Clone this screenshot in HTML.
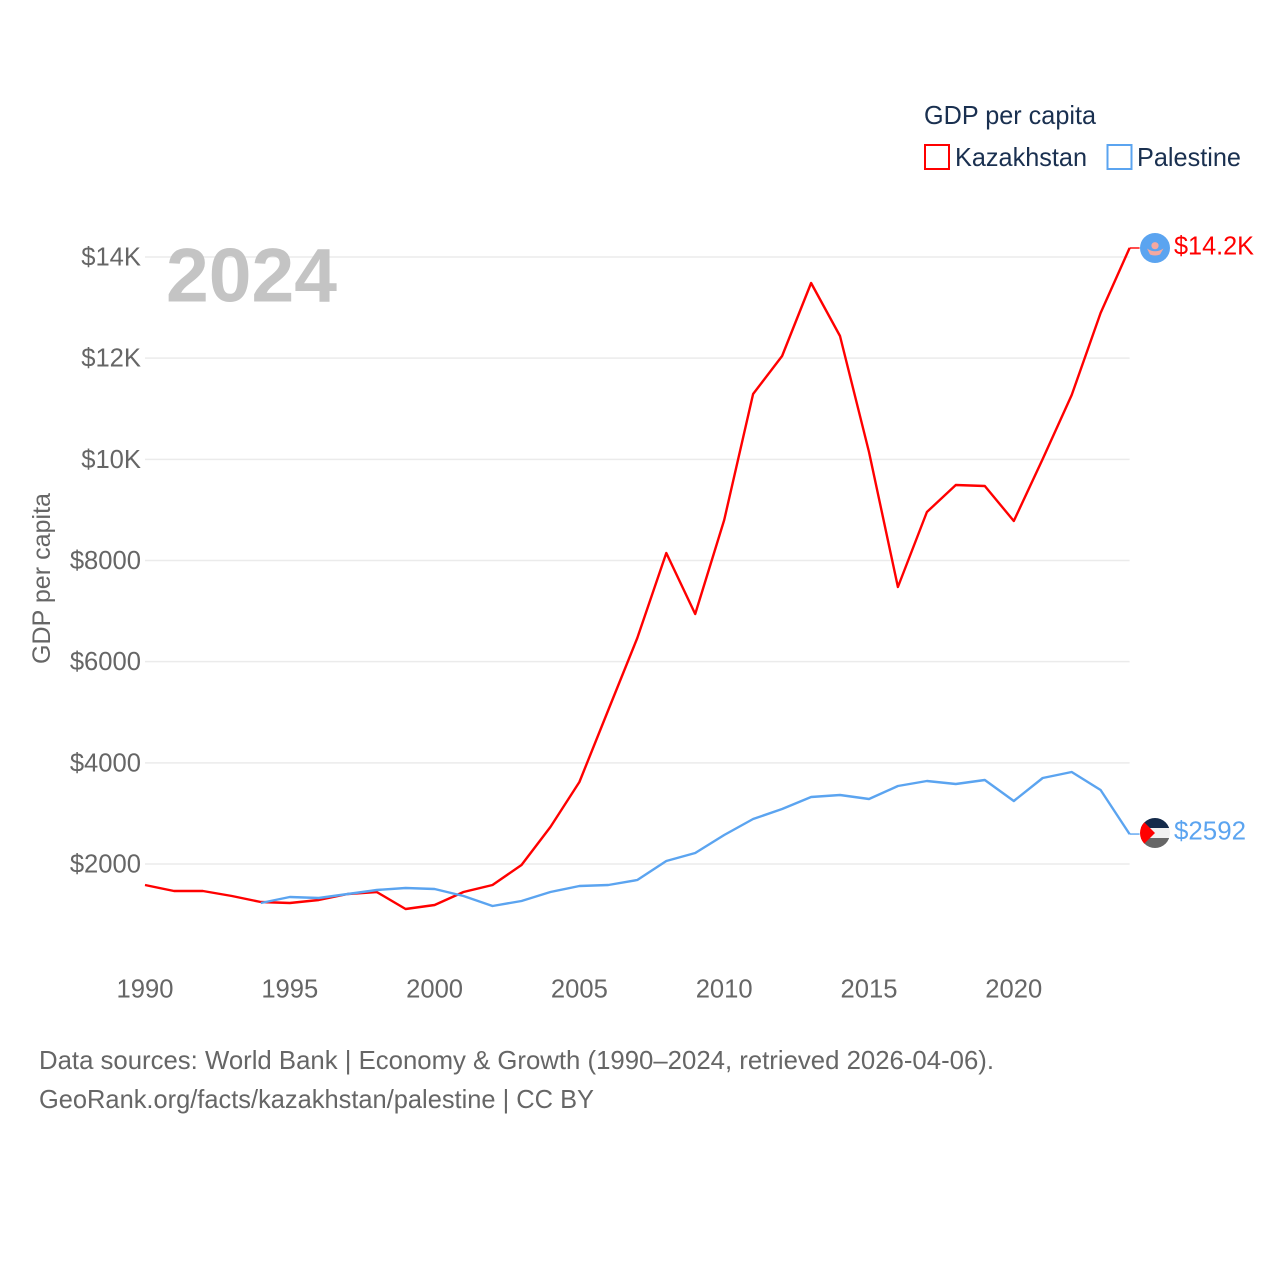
<!DOCTYPE html>
<html lang="en">
<head>
<meta charset="utf-8">
<title>GDP per capita: Kazakhstan and Palestine</title>
<style>
html,body{margin:0;padding:0;background:#fff;}
svg{display:block;font-family:"Liberation Sans",sans-serif;}
.tick{font-size:25.6px;fill:#666;}
.legend{font-size:26px;fill:#1a3050;}
</style>
</head>
<body>
<svg id="chart" width="1280" height="1280" viewBox="0 0 1280 1280" xmlns="http://www.w3.org/2000/svg">
  <defs>
    <clipPath id="flag-clip-kz"><circle cx="1155" cy="248" r="15"/></clipPath>
    <clipPath id="flag-clip-ps"><circle cx="1155" cy="833" r="15"/></clipPath>
  </defs>
  <g id="grid"></g>
  <g id="y-ticks"></g>
  <g id="x-ticks"></g>
  <text x="166" y="301.5" font-size="76" font-weight="700" fill="#c4c4c4" textLength="171" lengthAdjust="spacingAndGlyphs">2024</text>
  <text transform="translate(50,664) rotate(-90)" font-size="25" fill="#666" textLength="171" lengthAdjust="spacingAndGlyphs">GDP per capita</text>
  <g id="series"></g>

  <g clip-path="url(#flag-clip-kz)">
    <rect x="1140" y="233" width="30" height="30" fill="#5ba4f0"/>
    <circle cx="1155" cy="245.7" r="3.6" fill="#f5a8a0"/>
    <path d="M1147 248.5 Q1155 254 1163.5 248.5 L1160 254.5 Q1155 256.5 1150 254.5 Z" fill="#f5a8a0"/>
  </g>
  <g clip-path="url(#flag-clip-ps)">
    <rect x="1140" y="818" width="30" height="10" fill="#142a4a"/>
    <rect x="1140" y="828" width="30" height="10" fill="#f0f0f0"/>
    <rect x="1140" y="838" width="30" height="10" fill="#666"/>
    <path d="M1140 818 L1155 833 L1140 848 Z" fill="#f00"/>
  </g>
  <text x="1174" y="254.5" font-size="26" fill="#f00" textLength="80" lengthAdjust="spacingAndGlyphs">$14.2K</text>
  <text x="1174" y="839.5" font-size="26" fill="#5ba4f0" textLength="72" lengthAdjust="spacingAndGlyphs">$2592</text>

  <g>
    <text class="legend" x="924" y="124" textLength="172" lengthAdjust="spacingAndGlyphs">GDP per capita</text>
    <rect x="925" y="145" width="24" height="24" fill="#fff" stroke="#f00" stroke-width="2"/>
    <text class="legend" x="955" y="166" textLength="132" lengthAdjust="spacingAndGlyphs">Kazakhstan</text>
    <rect x="1107.5" y="145" width="24" height="24" fill="#fff" stroke="#5ba4f0" stroke-width="2"/>
    <text class="legend" x="1137" y="166" textLength="104" lengthAdjust="spacingAndGlyphs">Palestine</text>
  </g>

  <text x="39" y="1069" font-size="26" fill="#666" textLength="955" lengthAdjust="spacingAndGlyphs">Data sources: World Bank | Economy &amp; Growth (1990–2024, retrieved 2026-04-06).</text>
  <text x="39" y="1108" font-size="26" fill="#666" textLength="555" lengthAdjust="spacingAndGlyphs">GeoRank.org/facts/kazakhstan/palestine | CC BY</text>
</svg>
<script>
const kazakhstanYears = [1990,1991,1992,1993,1994,1995,1996,1997,1998,1999,2000,2001,2002,2003,2004,2005,2006,2007,2008,2009,2010,2011,2012,2013,2014,2015,2016,2017,2018,2019,2020,2021,2022,2023,2024];
const kazakhstanValues = [1585,1466,1466,1367,1249,1229,1288,1407,1446,1110,1189,1446,1585,1980,2731,3621,5044,6468,8148,6942,8801,11292,12043,13486,12438,10145,7476,8959,9493,9473,8781,10007,11272,12893,14178];
const palestineYears = [1994,1995,1996,1997,1998,1999,2000,2001,2002,2003,2004,2005,2006,2007,2008,2009,2010,2011,2012,2013,2014,2015,2016,2017,2018,2019,2020,2021,2022,2023,2024];
const palestineValues = [1229,1348,1328,1407,1486,1526,1506,1367,1170,1269,1446,1565,1585,1684,2059,2217,2573,2890,3087,3325,3364,3285,3542,3641,3582,3661,3245,3700,3819,3463,2592];
const yTickValues = [2000,4000,6000,8000,10000,12000,14000];
const yTickLabels = ['$2000','$4000','$6000','$8000','$10K','$12K','$14K'];
const xTickValues = [1990,1995,2000,2005,2010,2015,2020];

const NS = 'http://www.w3.org/2000/svg';
const xScale = function (year) { return 145 + (year - 1990) * (1129.6 - 145) / 34; };
const yScale = function (value) { return 864 - (value - 2000) * (864 - 257) / 12000; };

const gridGroup = document.getElementById('grid');
const yTickGroup = document.getElementById('y-ticks');
const xTickGroup = document.getElementById('x-ticks');
const seriesGroup = document.getElementById('series');

yTickValues.forEach(function (value, i) {
  const line = document.createElementNS(NS, 'line');
  
  
  line.setAttribute('x1', xScale(1990));
  line.setAttribute('x2', xScale(2024));
  line.setAttribute('y1', yScale(value));
  line.setAttribute('y2', yScale(value));
  line.setAttribute('stroke', '#ebebeb');
  line.setAttribute('stroke-width', '1.5');
  gridGroup.appendChild(line);

  const label = document.createElementNS(NS, 'text');
  
  
  label.setAttribute('class', 'tick');
  label.setAttribute('x', 141);
  label.setAttribute('y', yScale(value) + 8.5);
  label.setAttribute('text-anchor', 'end');
  label.textContent = yTickLabels[i];
  yTickGroup.appendChild(label);
});

xTickValues.forEach(function (year) {
  const label = document.createElementNS(NS, 'text');
  
  
  label.setAttribute('class', 'tick');
  label.setAttribute('x', xScale(year));
  label.setAttribute('y', 997.5);
  label.setAttribute('text-anchor', 'middle');
  label.textContent = String(year);
  xTickGroup.appendChild(label);
});

function pointsFor(years, values) {
  return years.map(function (year, i) {
    return xScale(year).toFixed(1) + ',' + yScale(values[i]).toFixed(1);
  }).join(' ');
}

const kazConnector = document.createElementNS(NS, 'line');


kazConnector.setAttribute('x1', xScale(2024));
kazConnector.setAttribute('x2', xScale(2024) + 10);
kazConnector.setAttribute('y1', yScale(kazakhstanValues[kazakhstanValues.length - 1]));
kazConnector.setAttribute('y2', yScale(kazakhstanValues[kazakhstanValues.length - 1]));
kazConnector.setAttribute('stroke', '#f00');
kazConnector.setAttribute('stroke-width', '1.4');
seriesGroup.appendChild(kazConnector);

const palConnector = document.createElementNS(NS, 'line');


palConnector.setAttribute('x1', xScale(2024));
palConnector.setAttribute('x2', xScale(2024) + 10);
palConnector.setAttribute('y1', yScale(palestineValues[palestineValues.length - 1]));
palConnector.setAttribute('y2', yScale(palestineValues[palestineValues.length - 1]));
palConnector.setAttribute('stroke', '#5ba4f0');
palConnector.setAttribute('stroke-width', '1.4');
seriesGroup.appendChild(palConnector);

const kazLine = document.createElementNS(NS, 'polyline');


kazLine.setAttribute('points', pointsFor(kazakhstanYears, kazakhstanValues));
kazLine.setAttribute('fill', 'none');
kazLine.setAttribute('stroke', '#f00');
kazLine.setAttribute('stroke-width', '2.4');
kazLine.setAttribute('stroke-linejoin', 'round');
seriesGroup.appendChild(kazLine);

const palLine = document.createElementNS(NS, 'polyline');


palLine.setAttribute('points', pointsFor(palestineYears, palestineValues));
palLine.setAttribute('fill', 'none');
palLine.setAttribute('stroke', '#5ba4f0');
palLine.setAttribute('stroke-width', '2.4');
palLine.setAttribute('stroke-linejoin', 'round');
seriesGroup.appendChild(palLine);
</script>
</body>
</html>
